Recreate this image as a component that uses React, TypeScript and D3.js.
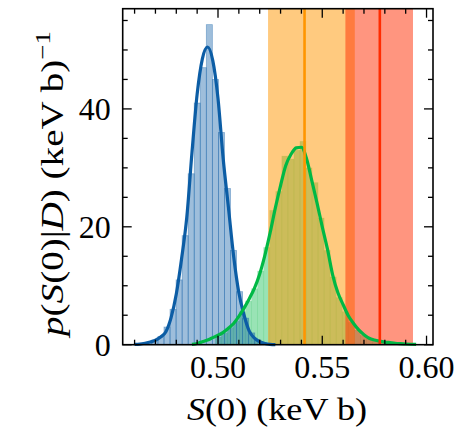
import React, { useEffect, useRef } from 'react';
import * as d3 from 'd3';

// posterior samples histograms (density) and KDE curves
const blueBinEdges = [0.4596, 0.4625, 0.4654, 0.4683, 0.4712, 0.4741, 0.4770, 0.4799, 0.4828, 0.4857, 0.4886, 0.4915,
  0.4944, 0.4973, 0.5002, 0.5031, 0.5060, 0.5089, 0.5118, 0.5147, 0.5176, 0.5205, 0.5234];
const blueDensity = [0.1, 0.2, 0.4, 0.8, 1.4, 3.0, 6.0, 11.0, 18.5, 29.0, 41.0, 47.0,
  54.3, 45.0, 36.0, 26.5, 16.0, 9.0, 4.5, 2.0, 0.8, 0.3];

const greenBinEdges = [0.4987, 0.5016, 0.5045, 0.5074, 0.5103, 0.5132, 0.5161, 0.5190, 0.5219, 0.5248, 0.5277, 0.5306,
  0.5335, 0.5364, 0.5393, 0.5422, 0.5451, 0.5480, 0.5509, 0.5538, 0.5567, 0.5596, 0.5625, 0.5654, 0.5683, 0.5712,
  0.5741, 0.5770, 0.5799, 0.5828];
const greenDensity = [1.3, 2.0, 2.9, 4.0, 5.6, 7.4, 9.5, 12.5, 16.5, 22.8, 26.0, 32.0, 31.5, 33.0, 34.5, 30.0,
  27.5, 21.5, 16.0, 11.5, 8.0, 5.6, 3.8, 2.5, 1.6, 1.0, 0.6, 0.4, 0.2];

const blueKdeX = [0.46, 0.4625, 0.465, 0.4675, 0.47, 0.4725, 0.475, 0.4775, 0.48, 0.4825, 0.485, 0.4875, 0.49, 0.4925,
  0.495, 0.4975, 0.5, 0.5025, 0.505, 0.5075, 0.51, 0.5125, 0.515, 0.5175, 0.52, 0.5225, 0.525, 0.5275];
const blueKdeY = [0.05, 0.1, 0.25, 0.45, 0.75, 1.3, 2.2, 4.6, 8.6, 14.5, 21.5, 32.5, 42.5, 48.5,
  50.5, 48.2, 41.8, 31.5, 23.3, 15.0, 8.8, 5.0, 2.3, 1.1, 0.5, 0.2, 0.05, 0.0];

const greenKdeX = [0.4875, 0.49, 0.4925, 0.495, 0.4975, 0.5, 0.5025, 0.505, 0.5075, 0.51, 0.5125, 0.515, 0.5175, 0.52,
  0.5225, 0.525, 0.5275, 0.53, 0.5325, 0.535, 0.5375, 0.54, 0.5425, 0.545, 0.5475, 0.55, 0.5525, 0.555, 0.5575, 0.56,
  0.5625, 0.565, 0.5675, 0.57, 0.5725, 0.575, 0.5775, 0.58, 0.5825, 0.585, 0.5875, 0.59, 0.5925, 0.595];
const greenKdeY = [0.05, 0.2, 0.5, 0.8, 1.2, 1.6, 2.1, 2.8, 3.6, 4.8, 6.2, 7.8, 9.6, 12.0,
  15.2, 19.0, 23.2, 27.0, 30.4, 32.3, 33.4, 33.5, 31.5, 27.8, 24.0, 20.0, 16.2, 11.8, 8.8, 6.8,
  4.9, 3.6, 2.5, 1.7, 1.1, 0.8, 0.6, 0.45, 0.35, 0.25, 0.18, 0.12, 0.08, 0.05];

// reference values with uncertainty bands: [low, central, high]
const orangeBand = [0.5240, 0.5415, 0.5656];
const redBand = [0.5611, 0.5776, 0.5935];

const xTicks = [0.50, 0.55, 0.60];
const yTicks = [0, 20, 40];

const BLUE = '#0C5DA5';
const GREEN = '#00B945';
const ORANGE = '#FF9500';
const RED = '#FF2C00';
const FONT = '"Liberation Serif", "Times New Roman", serif';

const App = () => {
  const ref = useRef<SVGSVGElement>(null);

  useEffect(() => {
    const svg = d3.select(ref.current);
    svg.selectAll('*').remove();

    const width = 466, height = 430;
    const margin = { top: 8.7, right: 33, bottom: 85.3, left: 122.7 };
    const x0 = margin.left, x1 = width - margin.right;
    const y0 = height - margin.bottom, y1 = margin.top;

    const x = d3.scaleLinear().domain([0.4543, 0.6031]).range([x0, x1]);
    const y = d3.scaleLinear().domain([0, 57]).range([y0, y1]);

    const plot = svg.append('g');

    // histograms
    const hist = (edges: number[], dens: number[], color: string, edgeOpacity: number) => {
      plot.append('g')
        .selectAll('rect')
        .data(dens)
        .join('rect')
          .attr('x', (d, i) => x(edges[i]))
          .attr('y', d => y(d))
          .attr('width', (d, i) => x(edges[i + 1]) - x(edges[i]))
          .attr('height', d => y(0) - y(d))
          .attr('fill', color)
          .attr('fill-opacity', 0.4)
          .attr('stroke', color)
          .attr('stroke-opacity', edgeOpacity)
          .attr('stroke-width', 0.8);
    };
    hist(greenBinEdges, greenDensity, GREEN, 0.12);
    hist(blueBinEdges, blueDensity, BLUE, 0.4);

    // bands
    [[orangeBand, ORANGE], [redBand, RED]].forEach(([b, c]: any) => {
      plot.append('rect')
        .attr('x', x(b[0]))
        .attr('y', y1)
        .attr('width', x(b[2]) - x(b[0]))
        .attr('height', y0 - y1)
        .attr('fill', c)
        .attr('fill-opacity', 0.5);
    });

    // KDE curves
    const line = d3.line<[number, number]>()
      .x(d => x(d[0]))
      .y(d => y(d[1]))
      .curve(d3.curveMonotoneX);

    plot.append('path')
      .attr('d', line(blueKdeX.map((v, i) => [v, blueKdeY[i]])))
      .attr('fill', 'none')
      .attr('stroke', BLUE)
      .attr('stroke-width', 3.2);

    plot.append('path')
      .attr('d', line(greenKdeX.map((v, i) => [v, greenKdeY[i]])))
      .attr('fill', 'none')
      .attr('stroke', GREEN)
      .attr('stroke-width', 3.2);

    // central values
    [[orangeBand, ORANGE], [redBand, RED]].forEach(([b, c]: any) => {
      plot.append('line')
        .attr('x1', x(b[1])).attr('x2', x(b[1]))
        .attr('y1', y1).attr('y2', y0)
        .attr('stroke', c)
        .attr('stroke-width', 2.6);
    });

    // frame and inward ticks on all sides
    const axes = svg.append('g').attr('stroke', '#000');
    const xMinor = d3.range(46, 61).map(v => v / 100);
    const yMinor = d3.range(0, 56, 5);

    xMinor.forEach(v => {
      const major = xTicks.some(t => Math.abs(t - v) < 1e-6);
      const len = major ? 9 : 5;
      axes.append('line').attr('x1', x(v)).attr('x2', x(v)).attr('y1', y0).attr('y2', y0 - len).attr('stroke-width', 1.3);
      axes.append('line').attr('x1', x(v)).attr('x2', x(v)).attr('y1', y1).attr('y2', y1 + len).attr('stroke-width', 1.3);
    });
    yMinor.forEach(v => {
      const major = yTicks.includes(v);
      const len = major ? 9 : 5;
      axes.append('line').attr('x1', x0).attr('x2', x0 + len).attr('y1', y(v)).attr('y2', y(v)).attr('stroke-width', 1.3);
      axes.append('line').attr('x1', x1).attr('x2', x1 - len).attr('y1', y(v)).attr('y2', y(v)).attr('stroke-width', 1.3);
    });

    axes.append('rect')
      .attr('x', x0).attr('y', y1)
      .attr('width', x1 - x0).attr('height', y0 - y1)
      .attr('fill', 'none')
      .attr('stroke-width', 1.6);

    // tick labels
    const labels = svg.append('g')
      .attr('font-family', FONT)
      .attr('font-size', 32)
      .attr('fill', '#000');

    labels.selectAll('.xl')
      .data(xTicks)
      .join('text')
        .attr('class', 'xl')
        .attr('x', d => x(d))
        .attr('y', y0 + 33)
        .attr('text-anchor', 'middle')
        .text(d => d3.format('.2f')(d));

    labels.selectAll('.yl')
      .data(yTicks)
      .join('text')
        .attr('class', 'yl')
        .attr('x', x0 - 12)
        .attr('y', d => y(d) + 11)
        .attr('text-anchor', 'end')
        .text(d => d);

    // x label
    const xl = labels.append('text')
      .attr('x', 277)
      .attr('y', 420)
      .attr('text-anchor', 'middle')
      .attr('textLength', 180)
      .attr('lengthAdjust', 'spacingAndGlyphs');
    xl.append('tspan').attr('font-style', 'italic').text('S');
    xl.append('tspan').text('(0) (keV b)');

    // y label
    const yl = labels.append('text')
      .attr('transform', `translate(63, 183.5) rotate(-90)`)
      .attr('text-anchor', 'middle')
      .attr('textLength', 305)
      .attr('lengthAdjust', 'spacingAndGlyphs');
    yl.append('tspan').attr('font-style', 'italic').text('p');
    yl.append('tspan').text('(');
    yl.append('tspan').attr('font-style', 'italic').text('S');
    yl.append('tspan').text('(0)|');
    yl.append('tspan').attr('font-style', 'italic').text('D');
    yl.append('tspan').text(') (keV b)');
    yl.append('tspan').attr('font-size', 22).attr('dy', -13).text('\u22121');
  }, []);

  return (
    <svg ref={ref} width={466} height={430} style={{ position: 'absolute', left: 0, top: 0, background: '#fff' }}></svg>
  );
};

export default App;
